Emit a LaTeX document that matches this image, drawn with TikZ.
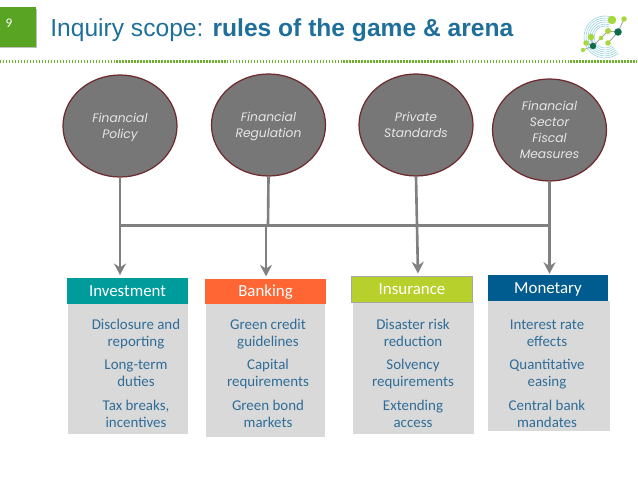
\documentclass[tikz,border=0pt]{standalone}
\usepackage{fontspec}
\setmainfont{Carlito}
\newfontfamily\titlefont{Liberation Sans}
\newfontfamily\circlefont{Poppins}
\usetikzlibrary{arrows.meta,calc,shapes.geometric}
\definecolor{slidegreen}{HTML}{5AA423}
\definecolor{dotgreen}{HTML}{6FB030}
\definecolor{titleblue}{HTML}{1F6F9B}
\definecolor{ringred}{HTML}{6E2A2E}
\definecolor{ringgray}{HTML}{777777}
\definecolor{ringtext}{HTML}{E6E6E6}
\definecolor{wiregray}{HTML}{808080}
\definecolor{bodygray}{HTML}{D9D9D9}
\definecolor{bodyblue}{HTML}{2F6D98}
\definecolor{headteal}{HTML}{009B9B}
\definecolor{headorange}{HTML}{FF6633}
\definecolor{headlime}{HTML}{B7D02B}
\definecolor{headblue}{HTML}{005C8F}
\definecolor{logolight}{HTML}{A6D83C}
\definecolor{logodark}{HTML}{0B6B4A}
\definecolor{logoring}{HTML}{9AD3DE}
\tikzset{
  policy/.style={ellipse,draw=ringred,fill=ringgray,line width=0.7pt,
                 minimum width=114*0.02cm,minimum height=102*0.02cm,inner sep=0pt,
                 align=center,text=ringtext,
                 font=\circlefont\itshape\fontsize{7}{9}\selectfont},
  twoline/.style={text height=15.7pt,text depth=1.7pt},
  headbox/.style={minimum height=26*0.02cm,minimum width=121*0.02cm,inner sep=0pt,
                  text=white,text height=7pt,text depth=1pt,
                  font=\fontsize{9.6}{11}\selectfont},
  bodybox/.style={fill=bodygray,inner sep=0pt},
  item/.style={align=center,text=bodyblue,inner sep=0pt,
               text height=15.6pt,text depth=2pt,
               font=\fontsize{8.5}{9.6}\selectfont},
  wire/.style={draw=wiregray,line width=1.5pt},
  wirearr/.style={-{Stealth[length=2.3mm,width=2.4mm]},draw=wiregray,line width=1.5pt},
  logodot/.style={circle,inner sep=0pt}
}
\begin{document}
\begin{tikzpicture}[x=0.02cm,y=-0.02cm]
    \path[use as bounding box] (0,0) rectangle (638,479);

    % slide header
    \fill[black!25] (0,9) rectangle (36.5,48.5);
    \node[fill=slidegreen,minimum width=36*0.02cm,minimum height=40*0.02cm,inner sep=0pt] (tab) at (18,27) {};
    \node[text=white,font=\fontsize{7.5}{9}\selectfont] (num) at (9,23) {9};
    \node[anchor=west,inner sep=0pt,text=titleblue,font=\titlefont\fontsize{14}{17}\selectfont] (title) at (50,30.5)
      {Inquiry scope: \textbf{rules of the game \& arena}};
    \draw[dotgreen,line width=1.3pt,dash pattern=on 0.85pt off 0.85pt] (0,61.5) -- (637,61.5);

    % logo
    \foreach \r in {11,13,15,17,19,21}
      \draw[logoring,line width=0.35pt] ($(605,37)+(70:\r*0.02cm)$) arc[start angle=70,end angle=310,radius=\r*0.02cm];
    \draw[black!35,line width=0.5pt] (583,50) -- (593,46) -- (601,38) -- (608,31) -- (618,32) -- (624,19);
    \draw[black!35,line width=0.5pt] (586,43) -- (593,46);
    \draw[black!35,line width=0.5pt] (591,37) -- (593,46);
    \draw[black!35,line width=0.5pt] (608,43) -- (618,32);
    \foreach \x/\y/\d/\c in {612/20/8.5/logolight,624/19/5.5/logolight,618/32/7.5/logodark,608/31/6/logolight,
                             591/37/6.5/logolight,601/38/4.5/logolight,608/43/5.5/logolight,586/43/5.5/logolight,
                             593/46/6.5/logodark,583/50/4.5/logolight}
      \node[logodot,fill=\c,minimum size=\d*0.02cm] at (\x,\y) {};

    % the four instruments
    \node[policy,twoline] (fpolicy) at (120,126) {Financial\\Policy};
    \node[policy,twoline] (freg) at (268.5,125) {Financial\\Regulation};
    \node[policy,twoline] (pstd) at (416,125) {Private\\Standards};
    \node[policy] (fiscal) at (549.5,130) {Financial\\Sector\\Fiscal\\Measures};

    % columns
    \node[bodybox,minimum width=120*0.02cm,minimum height=130*0.02cm] (body1) at (128,369) {};
    \node[bodybox,minimum width=119*0.02cm,minimum height=133*0.02cm] (body2) at (265.5,370.5) {};
    \node[bodybox,minimum width=121*0.02cm,minimum height=132*0.02cm] (body3) at (413,368) {};
    \node[bodybox,minimum width=122*0.02cm,minimum height=130*0.02cm] (body4) at (549,366) {};

    \node[headbox,fill=headteal] (invest) at (127.5,291) {Investment};
    \node[headbox,fill=headorange,minimum height=25*0.02cm] (bank) at (265.5,291.5) {Banking};
    \node[headbox,fill=headlime,draw=black!35,line width=0.3pt] (insur) at (412,289.5) {Insurance};
    \node[headbox,fill=headblue,minimum width=120*0.02cm] (monet) at (548,288) {Monetary};

    \node[item] (i1) at (136,334.7) {Disclosure and\\reporting};
    \node[item] (i2) at (136,374.7) {Long-term\\duties};
    \node[item] (i3) at (136,415.3) {Tax breaks,\\incentives};
    \node[item] (b1) at (268,334.7) {Green credit\\guidelines};
    \node[item] (b2) at (268,374.7) {Capital\\requirements};
    \node[item] (b3) at (268,415.3) {Green bond\\markets};
    \node[item] (s1) at (413,334.7) {Disaster risk\\reduction};
    \node[item] (s2) at (413,374.7) {Solvency\\requirements};
    \node[item] (s3) at (413,415.3) {Extending\\access};
    \node[item] (m1) at (547,334.7) {Interest rate\\effects};
    \node[item] (m2) at (547,374.7) {Quantitative\\easing};
    \node[item] (m3) at (547,415.3) {Central bank\\mandates};

    % wiring
    \coordinate (busl) at (120,225.5);
    \coordinate (busr) at (549,225.5);
    \coordinate (joint2) at (268,225.5);
    \coordinate (joint3) at (417,225.5);
    \draw[wire] (busl) -- (busr);
    \draw[wire] (freg.south) -- (joint2);
    \draw[wire] (pstd.south) -- (joint3);
    \draw[wirearr,shorten >=1.5pt] (fpolicy.south) -- (fpolicy.south |- invest.north);
    \draw[wirearr,shorten >=1.5pt] (266,225.5) -- (266,279);
    \draw[wirearr,shorten >=1.5pt] (joint3) -- (418,276);
    \draw[wirearr,shorten >=0.5pt] (fiscal.south) -- (fiscal.south |- monet.north);
\end{tikzpicture}
\end{document}
